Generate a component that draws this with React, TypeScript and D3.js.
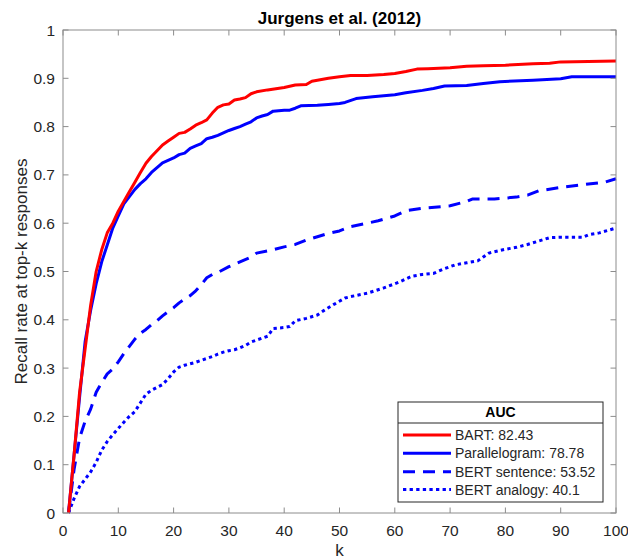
import React from "react";
import * as d3 from "d3";

// ---------- data ----------
const bartK = [1,2,3,4,5,6,7,8,9,10,11,12,13,14,15,16,17,18,19,20,21,22,23,24,25,26,27,28,29,30,31,32,33,34,35,37,40,42,44,45,46,48,50,52,55,58,60,62,64,66,70,73,76,80,85,88,90,95,100];
const bartRecall = [0,0.12,0.25,0.34,0.43,0.5,0.545,0.58,0.6,0.625,0.645,0.665,0.685,0.705,0.724,0.738,0.75,0.762,0.77,0.778,0.786,0.788,0.795,0.803,0.808,0.814,0.828,0.84,0.845,0.847,0.855,0.857,0.86,0.868,0.872,0.876,0.881,0.886,0.887,0.894,0.896,0.9,0.903,0.906,0.906,0.908,0.91,0.914,0.919,0.92,0.922,0.925,0.926,0.927,0.93,0.931,0.934,0.935,0.936];

const paraK = [1,2,3,4,5,6,7,8,9,10,11,12,13,14,15,16,17,18,19,20,21,22,23,24,25,26,27,28,29,30,31,32,33,34,35,36,37,38,40,41,42,43,46,48,50,51,53,56,60,62,65,67,69,73,76,79,85,90,92,100];
const paraRecall = [0,0.12,0.24,0.355,0.42,0.475,0.52,0.555,0.59,0.615,0.64,0.655,0.67,0.682,0.692,0.705,0.715,0.725,0.73,0.735,0.742,0.745,0.755,0.76,0.765,0.775,0.778,0.782,0.787,0.792,0.796,0.8,0.805,0.81,0.818,0.822,0.825,0.832,0.834,0.834,0.838,0.843,0.844,0.846,0.848,0.85,0.858,0.862,0.866,0.87,0.875,0.879,0.884,0.885,0.889,0.893,0.896,0.899,0.903,0.903];

const sentK = [1,2,3,4,5,6,7,8,9,10,11,12,13,14,15,16,17,18,19,20,21,22,23,24,25,26,27,28,30,32,34,35,38,40,42,44,46,48,50,52,55,57,60,62,65,70,73,74,78,82,84,86,90,95,98,100];
const sentRecall = [0,0.09,0.155,0.19,0.215,0.25,0.27,0.288,0.298,0.313,0.33,0.345,0.36,0.372,0.38,0.39,0.398,0.408,0.417,0.425,0.435,0.443,0.45,0.46,0.473,0.487,0.494,0.498,0.51,0.52,0.53,0.538,0.545,0.551,0.556,0.565,0.572,0.579,0.584,0.593,0.6,0.605,0.615,0.626,0.631,0.636,0.645,0.65,0.65,0.654,0.658,0.667,0.674,0.681,0.685,0.692];

const analK = [1,2,3,4,5,6,7,8,9,10,11,12,13,14,15,16,17,18,19,20,21,22,23,24,25,26,27,28,29,30,31,32,33,34,35,36,37,38,40,41,42,44,46,47,49,51,52,55,58,61,63,65,67,69,71,73,75,76,77,80,82,84,86,88,90,94,95,97,100];
const analRecall = [0,0.03,0.055,0.07,0.085,0.105,0.13,0.148,0.162,0.175,0.188,0.2,0.21,0.228,0.246,0.254,0.26,0.266,0.278,0.292,0.302,0.306,0.309,0.312,0.316,0.32,0.324,0.329,0.333,0.336,0.338,0.342,0.347,0.354,0.358,0.362,0.366,0.382,0.384,0.386,0.398,0.403,0.41,0.418,0.432,0.445,0.448,0.455,0.466,0.479,0.49,0.494,0.496,0.506,0.514,0.518,0.522,0.53,0.538,0.546,0.55,0.556,0.563,0.57,0.571,0.571,0.576,0.58,0.59];

const seriesNames = ["BART: 82.43", "Parallelogram: 78.78", "BERT sentence: 53.52", "BERT analogy: 40.1"];
const xTicks = [0,10,20,30,40,50,60,70,80,90,100];
const yTicks = [0,0.1,0.2,0.3,0.4,0.5,0.6,0.7,0.8,0.9,1];
const titleText = "Jurgens et al. (2012)";
const xLabel = "k";
const yLabel = "Recall rate at top-k responses";
const legendTitle = "AUC";

// ---------- layout ----------
const W = 628, H = 559;
const L = 63, R = 616, T = 30, B = 513;
const FONT = "'Liberation Sans', Arial, Helvetica, sans-serif";
const TXT = "#262626";
const AX = "#8c8c8c";

const styles = [
  { color: "#ff0000", dash: undefined as string | undefined, cap: "butt" },
  { color: "#0000ff", dash: undefined as string | undefined, cap: "butt" },
  { color: "#0000ff", dash: "12,8", cap: "butt" },
  { color: "#0000ff", dash: "3.3,3.3", cap: "butt" },
];

export default function App() {
  const x = d3.scaleLinear().domain([0, 100]).range([L, R]);
  const y = d3.scaleLinear().domain([0, 1]).range([B, T]);
  const line = d3.line<[number, number]>().x(d => x(d[0])).y(d => y(d[1]));

  const series: [number, number][][] = [
    bartK.map((k, i) => [k, bartRecall[i]] as [number, number]),
    paraK.map((k, i) => [k, paraRecall[i]] as [number, number]),
    sentK.map((k, i) => [k, sentRecall[i]] as [number, number]),
    analK.map((k, i) => [k, analRecall[i]] as [number, number]),
  ];
  const drawOrder = [3, 2, 1, 0];

  const tickLen = 5.5;
  const legX0 = 398, legX1 = 603, legY0 = 402, legY1 = 502, legSep = 423;
  const legRowY = [435, 453.3, 471.7, 489.6];

  return (
    <svg width={W} height={H} style={{ position: "absolute", left: 0, top: 0, background: "#fff" }}
      fontFamily={FONT}>
      <rect x={0} y={0} width={W} height={H} fill="#fff" />
      {/* series */}
      <g clipPath="url(#plotclip)">
        {drawOrder.map(i => (
          <path key={i} d={line(series[i]) || ""} fill="none" stroke={styles[i].color}
            strokeWidth={3} strokeDasharray={styles[i].dash} strokeLinejoin="round"
            strokeLinecap={styles[i].cap as any} />
        ))}
      </g>
      <defs>
        <clipPath id="plotclip"><rect x={L - 2} y={T - 2} width={R - L + 4} height={B - T + 4} /></clipPath>
      </defs>
      {/* axes box */}
      <rect x={L} y={T} width={R - L} height={B - T} fill="none" stroke={AX} strokeWidth={1} />
      {xTicks.map(t => (
        <g key={"x" + t}>
          <line x1={x(t)} x2={x(t)} y1={B} y2={B - tickLen} stroke={AX} />
          <line x1={x(t)} x2={x(t)} y1={T} y2={T + tickLen} stroke={AX} />
          <text x={x(t)} y={536} textAnchor="middle" fontSize={15.5} fill={TXT}>{t}</text>
        </g>
      ))}
      {yTicks.map(t => (
        <g key={"y" + t}>
          <line x1={L} x2={L + tickLen} y1={y(t)} y2={y(t)} stroke={AX} />
          <line x1={R} x2={R - tickLen} y1={y(t)} y2={y(t)} stroke={AX} />
          <text x={55} y={y(t) + 5.5} textAnchor="end" fontSize={15.5} fill={TXT}>{String(t)}</text>
        </g>
      ))}
      {/* title and labels */}
      <text x={(L + R) / 2} y={24} textAnchor="middle" fontSize={17} fontWeight="bold" fill="#000">{titleText}</text>
      <text x={(L + R) / 2} y={556} textAnchor="middle" fontSize={17} fill={TXT}>{xLabel}</text>
      <text transform={`translate(26.5,${(T + B) / 2}) rotate(-90)`} textAnchor="middle" fontSize={17} fill={TXT}>{yLabel}</text>
      {/* legend */}
      <rect x={legX0} y={legY0} width={legX1 - legX0} height={legY1 - legY0} fill="#fff" stroke={TXT} strokeWidth={1} />
      <line x1={legX0} x2={legX1} y1={legSep} y2={legSep} stroke={TXT} strokeWidth={1} />
      <text x={(legX0 + legX1) / 2} y={417} textAnchor="middle" fontSize={14} fontWeight="bold" fill="#000">{legendTitle}</text>
      {seriesNames.map((name, i) => (
        <g key={name}>
          <line x1={403} x2={451} y1={legRowY[i]} y2={legRowY[i]} stroke={styles[i].color} strokeWidth={3}
            strokeDasharray={styles[i].dash} />
          <text x={455} y={legRowY[i] + 5} fontSize={14} fill={TXT}>{name}</text>
        </g>
      ))}
    </svg>
  );
}
